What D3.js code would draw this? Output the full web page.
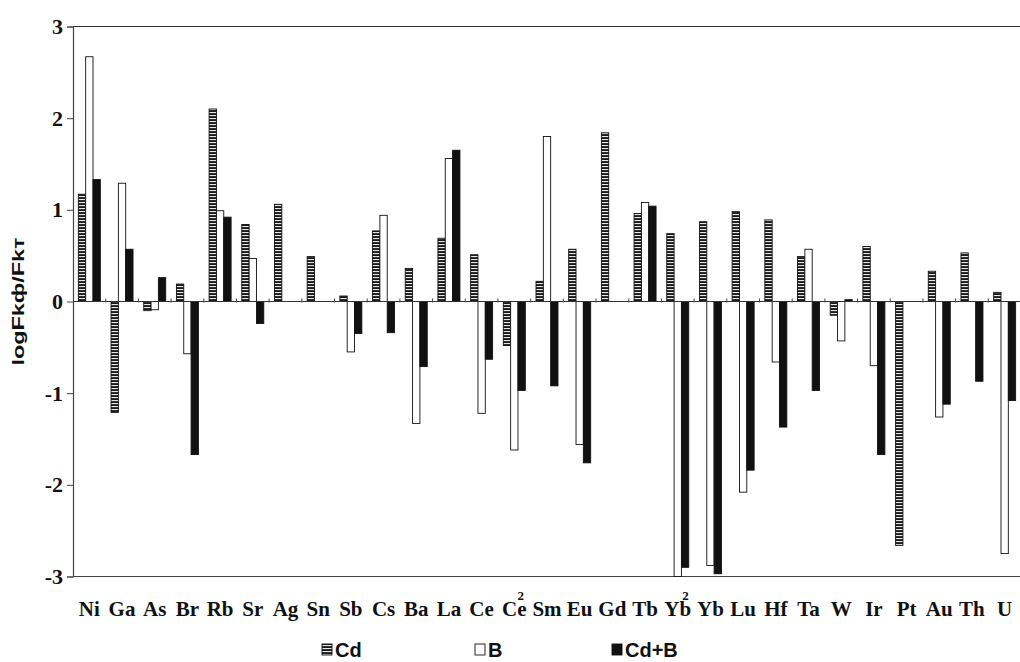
<!DOCTYPE html>
<html>
<head>
<meta charset="utf-8">
<script src="https://cdn.jsdelivr.net/npm/d3@7"></script>
<style>
  body { margin: 0; background: #fff; }
  svg { display: block; }
</style>
</head>
<body>
<script>
const width = 1020
const height = 662

// categories (a trailing "2" is drawn as the small superscript)
const categories = ["Ni","Ga","As","Br","Rb","Sr","Ag","Sn","Sb","Cs","Ba","La","Ce","Ce2","Sm","Eu","Gd","Tb","Yb2","Yb","Lu","Hf","Ta","W","Ir","Pt","Au","Th","U"]
const seriesNames = ["Cd", "B", "Cd+B"]
const cdValues  = [1.17,-1.21,-0.10,0.19,2.10,0.84,1.06,0.49,0.06,0.77,0.36,0.69,0.51,-0.48,0.22,0.57,1.84,0.96,0.74,0.87,0.98,0.89,0.49,-0.15,0.60,-2.66,0.33,0.53,0.10]
const bValues   = [2.67,1.29,-0.09,-0.57,0.99,0.47,0,0,-0.55,0.94,-1.33,1.56,-1.22,-1.62,1.80,-1.56,0,1.08,-3.00,-2.88,-2.08,-0.66,0.57,-0.43,-0.70,0,-1.26,0,-2.75]
const cdbValues = [1.33,0.57,0.26,-1.67,0.92,-0.24,0,0,-0.35,-0.34,-0.71,1.65,-0.63,-0.97,-0.92,-1.76,0,1.04,-2.90,-2.97,-1.84,-1.37,-0.97,0.02,-1.67,0,-1.12,-0.87,-1.08]
const yTicks = [-3, -2, -1, 0, 1, 2, 3]

const table = categories.map((c, i) => ({cat: c, values: [cdValues[i], bValues[i], cdbValues[i]]}))

const svg = d3.select('body').append('svg')
  .attr('width', width)
  .attr('height', height)

// hatch for the Cd series
const defs = svg.append('defs')
const pat = defs.append('pattern')
  .attr('id', 'hatch')
  .attr('patternUnits', 'userSpaceOnUse')
  .attr('width', 4).attr('height', 3)
pat.append('rect').attr('width', 4).attr('height', 3).attr('fill', '#1a1a1a')
pat.append('rect').attr('x', 0).attr('y', 1).attr('width', 4).attr('height', 1.1).attr('fill', '#e8e8e8')

const fills = {"Cd": "url(#hatch)", "B": "#fff", "Cd+B": "#111"}

const x = d3.scaleBand()
  .domain(categories)
  .range([73, 1021])

const x1 = d3.scaleBand()
  .domain(seriesNames)
  .range([0, x.bandwidth()])
  .paddingOuter(0.73)

const y = d3.scaleLinear()
  .domain([-3, 3])
  .range([576.5, 26.5])

// frame lines (top, bottom)
svg.append('line')
  .attr('x1', 73).attr('x2', width)
  .attr('y1', y(3)).attr('y2', y(3))
  .attr('stroke', '#333').attr('stroke-width', 1.2)
svg.append('line')
  .attr('x1', 73).attr('x2', width)
  .attr('y1', y(-3)).attr('y2', y(-3))
  .attr('stroke', '#444').attr('stroke-width', 1.2)

// bars
const groups = svg.append('g').selectAll('g')
  .data(table)
  .enter().append('g')
  .attr('transform', d => `translate(${x(d.cat)},0)`)

groups.selectAll('rect')
  .data(d => d.values.map((v, i) => ({key: seriesNames[i], v: v})))
  .enter().append('rect')
  .attr('x', d => x1(d.key))
  .attr('width', x1.bandwidth())
  .attr('y', d => y(Math.max(0, d.v)))
  .attr('height', d => Math.abs(y(d.v) - y(0)))
  .attr('fill', d => fills[d.key])
  .attr('stroke', '#111')
  .attr('stroke-width', 0.9)

// zero line with small category ticks
svg.append('line')
  .attr('x1', 73).attr('x2', width)
  .attr('y1', y(0)).attr('y2', y(0))
  .attr('stroke', '#333').attr('stroke-width', 1)
svg.append('g').selectAll('line')
  .data(categories.slice(1))
  .enter().append('line')
  .attr('x1', d => x(d)).attr('x2', d => x(d))
  .attr('y1', y(0) - 3).attr('y2', y(0) + 1)
  .attr('stroke', '#444')

// y axis
const yAxis = svg.append('g')
  .attr('transform', 'translate(73,0)')
  .call(d3.axisLeft(y).tickValues(yTicks).tickSize(6).tickPadding(4).tickFormat(d => String(d)))
yAxis.select('.domain').attr('stroke', '#444').attr('stroke-width', 1.2)
yAxis.selectAll('.tick line').attr('stroke', '#444')
yAxis.selectAll('text')
  .attr('font-family', '"Liberation Serif", "Times New Roman", serif')
  .attr('font-weight', 'bold')
  .attr('font-size', 22)
  .attr('fill', '#111')

// category labels
const labels = svg.append('g').selectAll('text')
  .data(categories)
  .enter().append('text')
  .attr('x', d => x(d) + x.bandwidth() / 2)
  .attr('y', 616)
  .attr('text-anchor', 'middle')
  .attr('font-family', '"Liberation Serif", "Times New Roman", serif')
  .attr('font-weight', 'bold')
  .attr('font-size', 21)
  .attr('fill', '#111')
labels.append('tspan').text(d => d.replace('2', ''))
labels.filter(d => d.endsWith('2'))
  .append('tspan')
  .attr('dx', -9).attr('dy', -16)
  .attr('font-size', 13)
  .text('2')

// y axis title
svg.append('text')
  .attr('transform', `translate(24,${y(0)}) rotate(-90)`)
  .attr('text-anchor', 'middle')
  .attr('font-family', '"Liberation Sans", Arial, sans-serif')
  .attr('font-weight', 'bold')
  .attr('font-size', 16)
  .attr('textLength', 128)
  .attr('lengthAdjust', 'spacingAndGlyphs')
  .attr('fill', '#111')
  .text('logFkф/Fkт')

// legend
const legendX = [322, 475, 612]
const legend = svg.append('g').selectAll('g')
  .data(seriesNames)
  .enter().append('g')
  .attr('transform', (d, i) => `translate(${legendX[i]},644)`)
legend.append('rect')
  .attr('width', 10).attr('height', 11)
  .attr('fill', d => fills[d])
  .attr('stroke', '#111').attr('stroke-width', 0.9)
legend.append('text')
  .attr('x', 13).attr('y', 13)
  .attr('font-family', '"Liberation Sans", Arial, sans-serif')
  .attr('font-weight', 'bold')
  .attr('font-size', 20)
  .attr('fill', '#111')
  .text(d => d)
</script>
</body>
</html>
